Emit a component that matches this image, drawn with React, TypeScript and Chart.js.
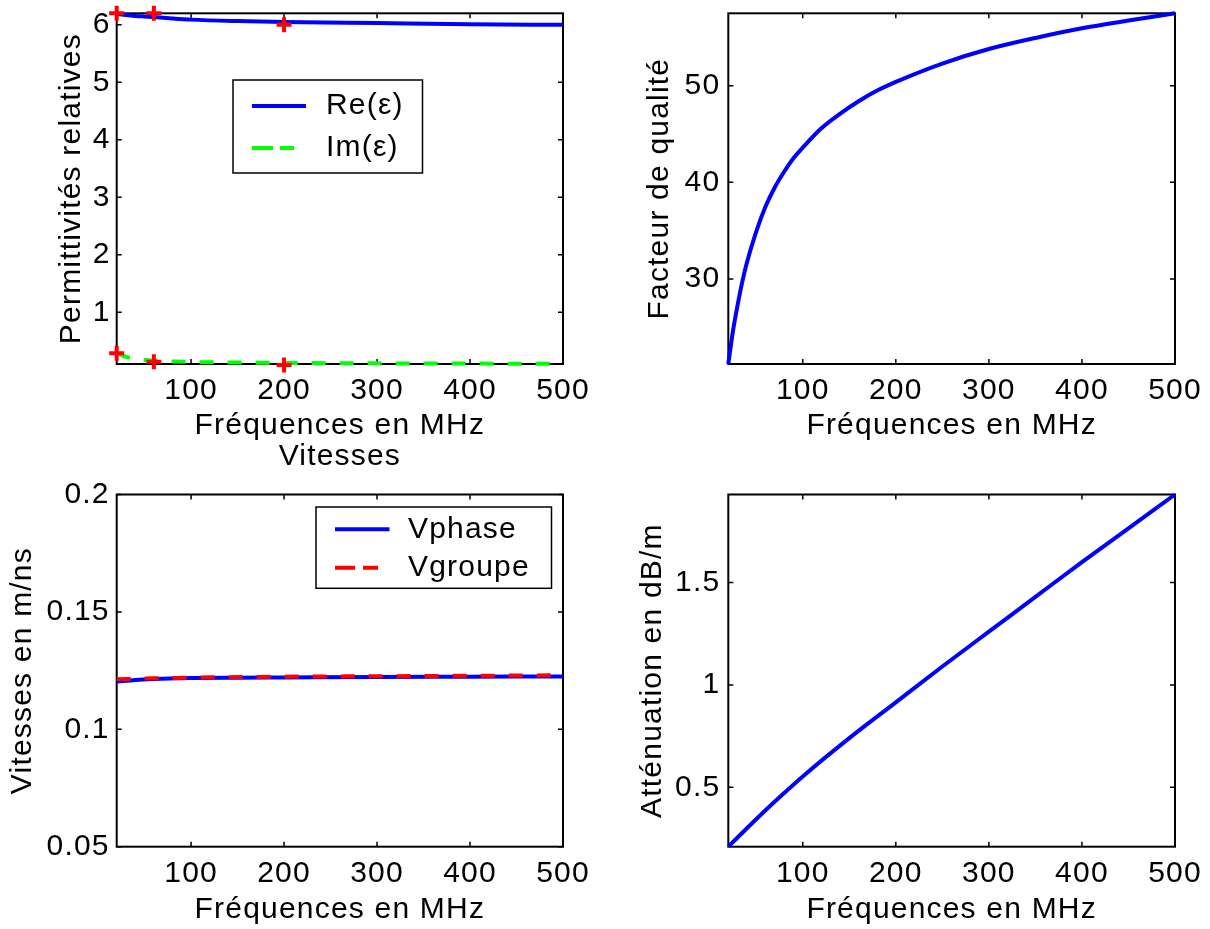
import React, { useEffect, useRef } from 'react';
import { Chart, registerables } from 'chart.js';

Chart.register(...registerables);

const FONT_FAMILY = '"Liberation Sans", Arial, Helvetica, sans-serif';
const FONT_SIZE = 30;
const TEXT_SPACING = '1.2px';

// ---------------- data ----------------
const freqTicks = [100, 200, 300, 400, 500];
const freqMin = 20;
const freqMax = 500;
const freqTitle = 'Fréquences en MHz';

// Permittivités relatives
const epsFreq = [20, 30, 40, 50, 60, 80, 100, 150, 200, 300, 400, 500];
const epsReal = [6.19, 6.17, 6.155, 6.145, 6.135, 6.11, 6.09, 6.065, 6.05, 6.03, 6.01, 6.0];
const epsImag = [0.29, 0.225, 0.19, 0.17, 0.16, 0.145, 0.135, 0.125, 0.118, 0.111, 0.107, 0.104];
const measFreq = [20, 60, 200];
const measReal = [6.2, 6.2, 6.0];
const measImag = [0.286, 0.14, 0.083];
const epsTicks = [1, 2, 3, 4, 5, 6];
const epsRange = [0.1, 6.2];

// Facteur de qualité
const qFreq = [20, 25, 30, 35, 40, 50, 60, 70, 80, 90, 100, 120, 140, 160, 180, 200, 250, 300, 350, 400, 450, 500];
const qValues = [21.2, 24.6, 27.3, 29.7, 31.7, 34.9, 37.5, 39.5, 41.1, 42.5, 43.6, 45.6, 47.1, 48.4, 49.5, 50.4, 52.3, 53.8, 54.95, 55.95, 56.75, 57.5];
const qTicks = [30, 40, 50];
const qRange = [21.2, 57.5];

// Vitesses
const vphFreq = [20, 40, 60, 100, 150, 200, 300, 400, 500];
const vphase = [0.1203, 0.121, 0.1214, 0.1218, 0.122, 0.1221, 0.1223, 0.1224, 0.1225];
const vgrFreq = [20, 60, 100, 200, 300, 400, 500];
const vgroupe = [0.1213, 0.1217, 0.122, 0.1224, 0.1226, 0.1228, 0.123];
const speedTicks = [0.05, 0.1, 0.15, 0.2];
const speedRange = [0.05, 0.2];

// Atténuation
const attFreq = [20, 40, 60, 80, 100, 150, 200, 250, 300, 350, 400, 450, 500];
const attenuation = [0.21, 0.3, 0.388, 0.472, 0.553, 0.74, 0.915, 1.09, 1.26, 1.43, 1.6, 1.765, 1.93];
const attTicks = [0.5, 1, 1.5];
const attRange = [0.21, 1.93];

// ---------------- helpers ----------------
const pts = (xs: number[], ys: number[]) => xs.map((x, i) => ({ x, y: ys[i] }));

type LegendEntry = { label: string; color: string; dash: number[] };
type LegendSpec = {
  x: number; y: number; w: number; h: number;
  lineX0: number; lineX1: number; textX: number;
  rows: number[];
  entries: LegendEntry[];
};

type PanelSpec = {
  left: number; top: number; w: number; h: number;
  padTop: number; padRight: number;
  yAxisW: number; xAxisH: number;
  xTitlePad: number; yTitlePad: number; yTickPad: number;
  yTitle: string; yTicks: number[]; yRange: number[];
  title?: { text: string; y: number };
  datasets: any[];
  legend?: LegendSpec;
};

const font = { family: FONT_FAMILY, size: FONT_SIZE, weight: 'normal' as const };
const TICK = 5;

function makePlugin(legend?: LegendSpec, title?: { text: string; y: number }) {
  return {
    id: 'matlabFrame',
    beforeDraw(chart: any) {
      chart.ctx.letterSpacing = TEXT_SPACING;
    },
    beforeDatasetsDraw(chart: any) {
      const { ctx, chartArea: a } = chart;
      const xs = chart.scales.x;
      const ys = chart.scales.y;
      ctx.save();
      ctx.strokeStyle = '#000';
      ctx.lineWidth = 2;
      ctx.strokeRect(a.left, a.top, a.right - a.left, a.bottom - a.top);
      ctx.lineWidth = 1.5;
      ctx.beginPath();
      xs.ticks.forEach((t: any) => {
        const p = xs.getPixelForValue(t.value);
        ctx.moveTo(p, a.bottom);
        ctx.lineTo(p, a.bottom - TICK);
        ctx.moveTo(p, a.top);
        ctx.lineTo(p, a.top + TICK);
      });
      ys.ticks.forEach((t: any) => {
        const p = ys.getPixelForValue(t.value);
        ctx.moveTo(a.left, p);
        ctx.lineTo(a.left + TICK, p);
        ctx.moveTo(a.right, p);
        ctx.lineTo(a.right - TICK, p);
      });
      ctx.stroke();
      if (title) {
        ctx.fillStyle = '#000';
        ctx.font = `${FONT_SIZE}px ${FONT_FAMILY}`;
        ctx.textAlign = 'center';
        ctx.textBaseline = 'middle';
        ctx.fillText(title.text, (a.left + a.right) / 2, title.y);
      }
      ctx.restore();
    },
    afterDatasetsDraw(chart: any) {
      if (!legend) return;
      const { ctx, chartArea: a } = chart;
      ctx.save();
      ctx.fillStyle = '#fff';
      ctx.fillRect(a.left + legend.x, a.top + legend.y, legend.w, legend.h);
      ctx.strokeStyle = '#000';
      ctx.lineWidth = 1.5;
      ctx.strokeRect(a.left + legend.x, a.top + legend.y, legend.w, legend.h);
      legend.entries.forEach((e, i) => {
        const y = a.top + legend.rows[i];
        ctx.strokeStyle = e.color;
        ctx.lineWidth = 4;
        ctx.setLineDash(e.dash);
        ctx.beginPath();
        ctx.moveTo(a.left + legend.lineX0, y);
        ctx.lineTo(a.left + legend.lineX1, y);
        ctx.stroke();
        ctx.setLineDash([]);
        ctx.fillStyle = '#000';
        ctx.font = `${FONT_SIZE}px ${FONT_FAMILY}`;
        ctx.textAlign = 'left';
        ctx.textBaseline = 'middle';
        ctx.fillText(e.label, a.left + legend.textX, y);
      });
      ctx.restore();
    },
  };
}

function buildConfig(s: PanelSpec): any {
  return {
    type: 'line',
    data: { datasets: s.datasets },
    options: {
      responsive: false,
      animation: false,
      events: [],
      layout: { padding: { top: s.padTop, right: s.padRight, left: 0, bottom: 0 } },
      plugins: {
        legend: { display: false },
        tooltip: { enabled: false },
        title: { display: false },
      },
      scales: {
        x: {
          type: 'linear',
          min: freqMin,
          max: freqMax,
          bounds: 'data',
          grid: { display: false, drawTicks: false },
          border: { display: false },
          afterBuildTicks: (sc: any) => {
            sc.ticks = freqTicks.map((v) => ({ value: v }));
          },
          ticks: {
            padding: 9,
            color: '#000',
            font,
            autoSkip: false,
            maxRotation: 0,
            callback: (v: any) => String(v),
          },
          title: {
            display: true,
            text: freqTitle,
            color: '#000',
            font,
            padding: { top: 0, bottom: s.xTitlePad },
          },
          afterFit: (sc: any) => {
            sc.height = s.xAxisH;
            sc.paddingLeft = 0;
            sc.paddingRight = 0;
          },
        },
        y: {
          type: 'linear',
          min: s.yRange[0],
          max: s.yRange[1],
          bounds: 'data',
          grid: { display: false, drawTicks: false },
          border: { display: false },
          afterBuildTicks: (sc: any) => {
            sc.ticks = s.yTicks.map((v) => ({ value: v }));
          },
          ticks: {
            padding: s.yTickPad,
            color: '#000',
            font,
            autoSkip: false,
            callback: (v: any) => String(v),
          },
          title: {
            display: true,
            text: s.yTitle,
            color: '#000',
            font,
            padding: { top: s.yTitlePad, bottom: 0 },
          },
          afterFit: (sc: any) => {
            sc.width = s.yAxisW;
            sc.paddingTop = 0;
            sc.paddingBottom = 0;
          },
        },
      },
    },
    plugins: [makePlugin(s.legend, s.title)],
  };
}

const lineDs = (label: string, data: any[], color: string, dash: number[], order: number) => ({
  label,
  data,
  borderColor: color,
  backgroundColor: color,
  borderWidth: 4,
  borderDash: dash,
  pointRadius: 0,
  fill: false,
  cubicInterpolationMode: 'monotone',
  clip: false,
  order,
});

const markerDs = (label: string, data: any[]) => ({
  label,
  data,
  showLine: false,
  pointStyle: 'cross',
  pointRadius: 7.5,
  pointBorderWidth: 4,
  pointBorderColor: '#ff0000',
  pointBackgroundColor: '#ff0000',
  borderColor: '#ff0000',
  clip: false,
  order: 0,
});

const BLUE = '#0000ff';
const GREEN = '#00ff00';
const RED = '#ff0000';
const DASH = [14, 14];

const panels: PanelSpec[] = [
  {
    left: 0, top: 0, w: 605, h: 465,
    padTop: 13.3, padRight: 42,
    yAxisW: 116.7, xAxisH: 101,
    xTitlePad: 21, yTitlePad: 53.6, yTickPad: 6,
    yTitle: 'Permittivités relatives', yTicks: epsTicks, yRange: epsRange,
    datasets: [
      markerDs('Re mesures', pts(measFreq, measReal)),
      markerDs('Im mesures', pts(measFreq, measImag)),
      lineDs('Re(ε)', pts(epsFreq, epsReal), BLUE, [], 2),
      lineDs('Im(ε)', pts(epsFreq, epsImag), GREEN, DASH, 1),
    ],
    legend: {
      x: 116.3, y: 66.7, w: 189.5, h: 93,
      lineX0: 135.3, lineX1: 189.3, textX: 209.3,
      rows: [92.7, 134.7],
      entries: [
        { label: 'Re(ε)', color: BLUE, dash: [] },
        { label: 'Im(ε)', color: GREEN, dash: [21, 7, 14, 12] },
      ],
    },
  },
  {
    left: 605, top: 0, w: 605, h: 465,
    padTop: 13.3, padRight: 35,
    yAxisW: 123.3, xAxisH: 101,
    xTitlePad: 21, yTitlePad: 37.2, yTickPad: 8,
    yTitle: 'Facteur de qualité', yTicks: qTicks, yRange: qRange,
    datasets: [lineDs('Q', pts(qFreq, qValues), BLUE, [], 1)],
  },
  {
    left: 0, top: 430, w: 605, h: 499,
    padTop: 64.5, padRight: 42,
    yAxisW: 116.7, xAxisH: 82.3,
    xTitlePad: 1, yTitlePad: 4.6, yTickPad: 7,
    yTitle: 'Vitesses en m/ns', yTicks: speedTicks, yRange: speedRange,
    title: { text: 'Vitesses', y: 27 },
    datasets: [
      lineDs('Vgroupe', pts(vgrFreq, vgroupe), RED, DASH, 0),
      lineDs('Vphase', pts(vphFreq, vphase), BLUE, [], 1),
    ],
    legend: {
      x: 199.3, y: 12.5, w: 235.5, h: 81.3,
      lineX0: 218.3, lineX1: 272.8, textX: 291.3,
      rows: [34.8, 73.2],
      entries: [
        { label: 'Vphase', color: BLUE, dash: [] },
        { label: 'Vgroupe', color: RED, dash: [20, 8, 15, 12] },
      ],
    },
  },
  {
    left: 605, top: 430, w: 605, h: 499,
    padTop: 64.5, padRight: 35,
    yAxisW: 123.3, xAxisH: 82.3,
    xTitlePad: 1, yTitlePad: 29.4, yTickPad: 8,
    yTitle: 'Atténuation en dB/m', yTicks: attTicks, yRange: attRange,
    datasets: [lineDs('Atténuation', pts(attFreq, attenuation), BLUE, [], 1)],
  },
];

function Panel({ spec }: { spec: PanelSpec }) {
  const ref = useRef<HTMLCanvasElement>(null);
  useEffect(() => {
    if (!ref.current) return;
    const chart = new Chart(ref.current, buildConfig(spec));
    return () => chart.destroy();
  }, [spec]);
  return (
    <canvas
      ref={ref}
      width={spec.w}
      height={spec.h}
      style={{ position: 'absolute', left: spec.left, top: spec.top, width: spec.w, height: spec.h }}
    />
  );
}

export default function App() {
  return (
    <div
      style={{
        position: 'absolute',
        left: 0,
        top: 0,
        width: 1210,
        height: 929,
        background: '#fff',
        overflow: 'hidden',
      }}
    >
      {panels.map((p, i) => (
        <Panel key={i} spec={p} />
      ))}
    </div>
  );
}
